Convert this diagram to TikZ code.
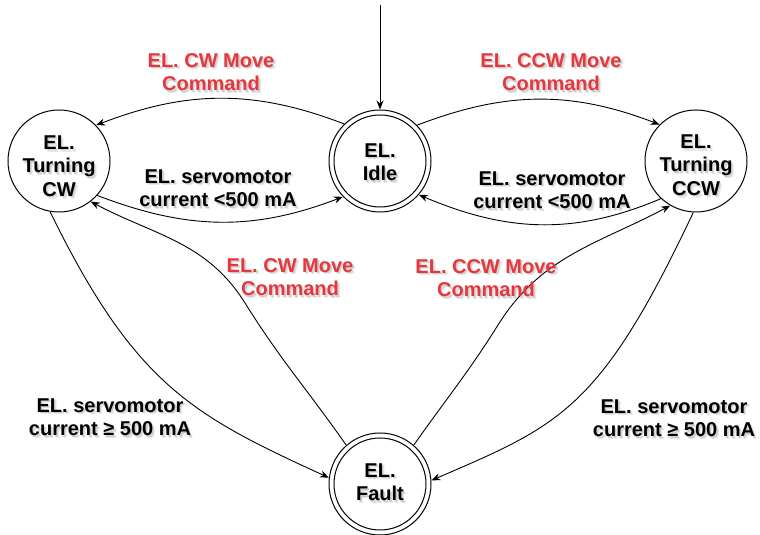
\documentclass[tikz,border=0pt]{standalone}
\usepackage{fontspec}
\setmainfont{Liberation Sans}
\usetikzlibrary{arrows.meta}
\definecolor{cmdred}{RGB}{228,56,62}
% text with a soft drop shadow: style, name, position, text
\newcommand\shadowedtext[4]{%
  \node[#1, text=black!50, opacity=0.18, xshift=2.6pt, yshift=-2.8pt] (#2-s2) at (#3) {#4};
  \node[#1, text=black!50, opacity=0.28, xshift=1.4pt, yshift=-1.6pt] (#2-s1) at (#3) {#4};
  \node[#1] (#2) at (#3) {#4};}
\begin{document}
\begin{tikzpicture}[x=1pt,y=1pt,
  every node/.style={font=\bfseries\fontsize{20}{23.5}\selectfont, align=center},
  state/.style={draw, circle, line width=1pt, minimum size=102pt, inner sep=0pt},
  ring/.style={draw, line width=1pt},
  edge/.style={draw, line width=0.9pt, -{Stealth[length=9pt,width=7pt]}},
  cond/.style={text=black},
  cmd/.style={text=cmdred}]
\useasboundingbox (0,0) rectangle (760,535);

% states
\node[state] (idle)  at (380,374) {};
\node[state] (cw)    at (59,374)  {};
\node[state] (ccw)   at (696,374) {};
\node[state] (fault) at (380,51)  {};
\draw[ring] (idle.center)  circle[radius=46pt];
\draw[ring] (fault.center) circle[radius=46pt];
\shadowedtext{cond}{idle-t}{380,373}{EL.\\Idle}
\shadowedtext{cond}{cw-t}{59,369}{EL.\\Turning\\CW}
\shadowedtext{cond}{ccw-t}{696,370}{EL.\\Turning\\CCW}
\shadowedtext{cond}{fault-t}{380,53}{EL.\\Fault}

% initial transition
\coordinate (init) at (380,530);
\draw[edge] (init) -- (idle);

% Idle <-> Turning CW / CCW
\draw[edge] (idle.134) to[out=159,in=21]  (cw.44);
\draw[edge] (cw.-42)   to[out=-21,in=201] (idle.224);
\draw[edge] (idle.44)  to[out=21,in=159]  (ccw.135);
\draw[edge] (ccw.227)  to[out=203,in=-23] (idle.-41);

% Fault -> Turning states
\coordinate (w5) at (245,232);
\coordinate (w7) at (498,210);
\draw[edge] (fault.131) to[out=125,in=-58] (w5) to[out=122,in=-28] (cw.-52);
\draw[edge] (fault.49)  to[out=55,in=238]  (w7) to[out=58,in=208]  (ccw.-120);

% Turning states -> Fault
\draw[edge] (cw.-100) .. controls (135,150) and (192,120) .. (fault.173);
\draw[edge] (ccw.-93) .. controls (600,125) and (560,110) .. (fault.4);

% transition labels
\shadowedtext{cmd}{l1}{211,463}{EL. CW Move\\Command}
\shadowedtext{cond}{l2}{218,347}{EL. servomotor\\current <500 mA}
\shadowedtext{cmd}{l3}{551,463}{EL. CCW Move\\Command}
\shadowedtext{cond}{l4}{552,345}{EL. servomotor\\current <500 mA}
\shadowedtext{cmd}{l5}{290,258}{EL. CW Move\\Command}
\shadowedtext{cmd}{l6}{486,257}{EL. CCW Move\\Command}
\shadowedtext{cond}{l7}{110,118}{EL. servomotor\\current ≥ 500 mA}
\shadowedtext{cond}{l8}{674,117}{EL. servomotor\\current ≥ 500 mA}
\end{tikzpicture}
\end{document}
